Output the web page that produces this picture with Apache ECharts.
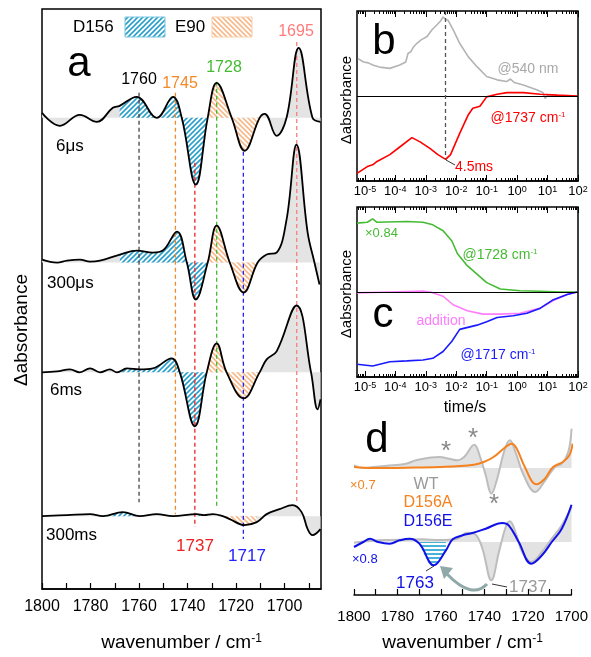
<!DOCTYPE html>
<html>
<head>
<meta charset="utf-8">
<script src="https://cdn.jsdelivr.net/npm/echarts@6/dist/echarts.min.js"></script>
<style>
html,body{margin:0;padding:0;background:#fff;}
#main{width:591px;height:657px;}
</style>
</head>
<body>
<div id="main"></div>
<script>
var FONT = 'Arial, "Liberation Sans", sans-serif';

// ---- panel a: spectra [wavenumber, delta abs] (arb. units) ----
var spec6us = [[1800,5],[1792.6,-8],[1784.4,3],[1777.4,-4],[1770.8,10],[1768,12],[1761,21],[1752.7,0],[1746,21],[1742.4,0],[1736.6,-67],[1731.7,0],[1728,35],[1721.8,0],[1716.5,-33],[1710.3,0],[1708.2,4],[1703.3,-18],[1699.2,0],[1694.2,70],[1688.5,0],[1685.2,-4]];
var spec300us = [[1800,3],[1793.8,0],[1789.7,2],[1784.4,3],[1780.2,1],[1776.1,2],[1767.9,8],[1760.9,12],[1754.3,10],[1750.2,12],[1744.4,31],[1740.3,0],[1736.6,-37],[1731.7,0],[1728,37],[1722.6,0],[1716.9,-30],[1711.1,0],[1707.4,8],[1703.3,10],[1699.2,43],[1695.1,118],[1690.5,30],[1687.7,0],[1685.6,-22]];
var spec6ms = [[1800,0],[1793.8,1],[1788.5,3],[1784.4,0],[1780.2,4],[1776.1,0],[1772,3],[1769.1,0],[1765,4],[1759.7,3],[1754.3,4],[1746.6,14],[1743.2,0],[1737,-54],[1732.1,0],[1728,29],[1723.9,0],[1716.9,-26],[1710.3,0],[1707.4,13],[1703.3,21],[1695.1,67],[1689.1,0],[1686.4,-37],[1685.2,-27]];
var spec300ms = [[1800,0],[1789.7,1],[1780.2,2],[1774.9,0],[1766.7,4],[1759.7,0],[1752.7,2],[1746.1,0],[1736.2,2],[1733.3,1],[1729.6,2],[1725.5,0],[1722.6,-3],[1716.5,-9],[1711.5,-6],[1707.4,2],[1702.1,7],[1696.7,11],[1693,4],[1690.5,-13],[1688.5,-19],[1685.2,-13]];
var traceOffsets = [0, -145, -255, -399];
var traceNames = ['6μs', '300μs', '6ms', '300ms'];
// hatched ranges [lo, hi] per trace
var blueRanges = [[[1731.7,1768]], [[1731.7,1767.9]], [[1732.1,1769.1]], [[1759.7,1774.9],[1733.3,1736.2]]];
var orangeRanges = [[[1710.3,1731.7]], [[1711.1,1731.7]], [[1710.3,1732.1]], [[1711.5,1725.5]]];
var markWn = [1760, 1745, 1737, 1728, 1717, 1695];
var markColors = ['#444444', '#f5892a', '#ee2222', '#44bb33', '#2222ff', '#ff7b7b'];
var markTop = [25, 25, -45, 36, -34, 76];
var markBottom = [-385, -397, -410, -390, -422, -385];

// ---- panel b/c: kinetics [time s, delta abs] ----
var k540 = [[5.9e-6,0.44],[9e-6,0.40],[1.3e-5,0.39],[1.8e-5,0.365],[3e-5,0.34],[6.6e-5,0.325],[1.4e-4,0.365],[2.2e-4,0.40],[2.6e-4,0.50],[3.2e-4,0.52],[4e-4,0.58],[5.1e-4,0.62],[7e-4,0.66],[1.1e-3,0.70],[1.6e-3,0.78],[2.3e-3,0.835],[3e-3,0.88],[3.7e-3,0.93],[4.5e-3,0.90],[5.4e-3,0.89],[7.9e-3,0.78],[1.3e-2,0.62],[2.5e-2,0.46],[4.8e-2,0.345],[0.1,0.23],[0.22,0.19],[0.45,0.17],[0.6,0.20],[0.8,0.16],[1.6,0.13],[4.6,0.07],[7,0.04],[8.3,-0.03],[10,0.01],[21,0.0],[93,0]];
var k1737 = [[5.5e-6,-0.91],[1.2e-5,-0.83],[1.8e-5,-0.81],[2.5e-5,-0.77],[6.6e-5,-0.69],[1.4e-4,-0.60],[3.5e-4,-0.49],[6.5e-4,-0.54],[1.4e-3,-0.62],[2.5e-3,-0.69],[4.5e-3,-0.745],[6.5e-3,-0.69],[1.3e-2,-0.44],[2.5e-2,-0.22],[3.5e-2,-0.145],[6e-2,-0.12],[0.1,-0.01],[0.22,0.02],[0.47,0.04],[1.6,0.04],[5.8,0.02],[21,0.01],[93,0]];
var k1728 = [[5.5e-6,0.81],[1.2e-5,0.82],[1.8e-5,0.86],[2.5e-5,0.82],[2.4e-4,0.83],[8.1e-4,0.82],[1.7e-3,0.79],[3.7e-3,0.72],[7.2e-3,0.60],[1.1e-2,0.45],[2.3e-2,0.31],[4.8e-2,0.21],[0.1,0.11],[0.28,0.035],[1.26,0.015],[5.8,0.008],[26,0],[93,0]];
var k1717 = [[5.5e-6,-0.85],[1.8e-5,-0.87],[6.6e-5,-0.82],[2.4e-4,-0.81],[8.1e-4,-0.80],[1.7e-3,-0.78],[3.7e-3,-0.70],[7.2e-3,-0.58],[1.3e-2,-0.44],[2.8e-2,-0.41],[4.8e-2,-0.39],[0.1,-0.35],[0.22,-0.30],[0.74,-0.28],[2.1,-0.25],[5.8,-0.19],[15.5,-0.09],[44,-0.03],[93,0]];
var kAdd = [[5.5e-6,-0.01],[6.6e-5,0],[8.1e-4,0.01],[1.4e-3,0],[3.7e-3,-0.05],[7.9e-3,-0.15],[2.3e-2,-0.22],[7.6e-2,-0.26],[0.28,-0.26],[1.26,-0.25],[5.8,-0.19],[15.5,-0.10],[44,-0.03],[93,0]];
var decades = [1e-5,1e-4,1e-3,1e-2,1e-1,1,10,100];

// ---- panel d: mutants ----
var wtUpper = [[1800,2.7],[1795.7,0],[1791.2,1],[1782.8,2.7],[1776,4.3],[1771.4,7.7],[1760.7,11],[1756.2,9.3],[1752.4,7.7],[1749.3,11],[1744.7,23.3],[1741.7,9.3],[1739.4,-7.3],[1736.8,-25.7],[1734.1,-10.7],[1731,16],[1728.3,27.7],[1725.7,16],[1721.9,-7.3],[1716.6,-24],[1712,-12.3],[1707.5,1],[1704.4,4.3],[1701.4,16],[1699.9,39.3]];
var d156a = [[1800,1],[1791.2,0],[1776,0.3],[1760.7,1],[1744.8,3.3],[1740.3,6],[1735.8,11],[1731.2,19.3],[1727.4,24.3],[1725.1,19.3],[1721.4,1],[1716.1,-16.3],[1712.2,-10.7],[1708.4,1],[1703.9,6],[1700.9,12.7],[1699.4,24.3]];
var wtLower = [[1800,-0.7],[1791.2,1.3],[1783.6,2],[1776,2.3],[1768.4,2.7],[1760.7,2],[1753.1,2.7],[1747.8,9.3],[1744,7.3],[1740.9,-6.7],[1736.8,-38.3],[1733.3,-10],[1730.2,15],[1728.3,20.7],[1725.7,10],[1722.6,-10],[1718.4,-20],[1713.5,-10],[1709,3.3],[1704.4,16.7],[1699.9,35]];
var d156e = [[1800,-5],[1795.7,0],[1792.7,3.3],[1788.9,0],[1783.6,-1.7],[1779,1.7],[1774.4,3.3],[1769.9,-1.7],[1763.3,-23.3],[1757.7,-8.3],[1754.6,2.7],[1750,6.7],[1745.5,9],[1739.4,13.3],[1731.8,19],[1728.8,16.7],[1724.2,0],[1718.4,-21.7],[1713.5,-13.3],[1709,0],[1704.4,13.3],[1699.9,37.3]];
var dOffsets = [0, -74];
var d156eHatch = [1756.2, 1769.9];

function hatch(color, dir, size) {
    var c = document.createElement('canvas');
    c.width = size; c.height = size;
    var g = c.getContext('2d');
    g.fillStyle = '#ffffff';
    g.fillRect(0, 0, size, size);
    g.strokeStyle = color;
    g.lineWidth = 1.6;
    g.beginPath();
    if (dir === '/') {
        g.moveTo(-size, size); g.lineTo(size, -size);
        g.moveTo(0, size); g.lineTo(size, 0);
        g.moveTo(0, 2 * size); g.lineTo(2 * size, 0);
    } else if (dir === '\\') {
        g.moveTo(0, 0); g.lineTo(size, size);
        g.moveTo(-size, 0); g.lineTo(size, 2 * size);
        g.moveTo(0, -size); g.lineTo(2 * size, size);
    } else {
        g.moveTo(0, size / 2); g.lineTo(size, size / 2);
    }
    g.stroke();
    return {image: c, repeat: 'repeat'};
}
var blueHatch = hatch('#2a9fca', '/', 5);
var orangeHatch = hatch('#f7b98a', '\\', 5);
var cyanLines = hatch('#1aa0d0', '-', 4);

function shift(arr, off) {
    return arr.map(function (p) { return [p[0], p[1] + off]; });
}
function inRange(arr, r) {
    return arr.filter(function (p) { return p[0] >= r[0] - 0.01 && p[0] <= r[1] + 0.01; });
}

var series = [];
var specs = [spec6us, spec300us, spec6ms, spec300ms];
specs.forEach(function (s, i) {
    var off = traceOffsets[i];
    series.push({type: 'line', xAxisIndex: 0, yAxisIndex: 0, smooth: 0.4, symbol: 'none', z: 1,
        data: shift(s, off), lineStyle: {width: 0}, areaStyle: {color: '#e4e4e4', opacity: 1, origin: off}});
    blueRanges[i].forEach(function (r) {
        series.push({type: 'line', xAxisIndex: 0, yAxisIndex: 0, smooth: 0.4, symbol: 'none', z: 2,
            data: shift(inRange(s, r), off), lineStyle: {width: 0}, areaStyle: {color: blueHatch, opacity: 1, origin: off}});
    });
    orangeRanges[i].forEach(function (r) {
        series.push({type: 'line', xAxisIndex: 0, yAxisIndex: 0, smooth: 0.4, symbol: 'none', z: 2,
            data: shift(inRange(s, r), off), lineStyle: {width: 0}, areaStyle: {color: orangeHatch, opacity: 1, origin: off}});
    });
});
markWn.forEach(function (w, i) {
    series.push({type: 'line', xAxisIndex: 0, yAxisIndex: 0, symbol: 'none', z: 3,
        data: [[w, markTop[i]], [w, markBottom[i]]],
        lineStyle: {color: markColors[i], width: 1.3, type: [4, 3]}});
});
specs.forEach(function (s, i) {
    series.push({type: 'line', xAxisIndex: 0, yAxisIndex: 0, smooth: 0.4, symbol: 'none', z: 4,
        data: shift(s, traceOffsets[i]), lineStyle: {color: '#000', width: 1.8}});
});

// panel b
series.push({type: 'line', xAxisIndex: 1, yAxisIndex: 1, symbol: 'none', data: k540,
    lineStyle: {color: '#b4b4b4', width: 1.6},
    markLine: {silent: true, symbol: 'none', label: {show: false}, lineStyle: {color: '#000', width: 1.2, type: 'solid'}, data: [{yAxis: 0}]}});
series.push({type: 'line', xAxisIndex: 1, yAxisIndex: 1, symbol: 'none', data: k1737, lineStyle: {color: '#ff0000', width: 1.6},
    markLine: {silent: true, symbol: 'none', label: {show: false}, lineStyle: {color: '#555', width: 1.3, type: [4, 3]},
        data: [[{coord: [4.5e-3, 1]}, {coord: [4.5e-3, -0.745]}]]}});
// panel c
series.push({type: 'line', xAxisIndex: 5, yAxisIndex: 2, symbol: 'none', data: k1728, lineStyle: {color: '#44bb33', width: 1.6},
    markLine: {silent: true, symbol: 'none', label: {show: false}, lineStyle: {color: '#000', width: 1.2, type: 'solid'}, data: [{yAxis: 0}]}});
series.push({type: 'line', xAxisIndex: 5, yAxisIndex: 2, symbol: 'none', data: kAdd, lineStyle: {color: '#ff7cff', width: 1.6}});
series.push({type: 'line', xAxisIndex: 5, yAxisIndex: 2, symbol: 'none', data: k1717, lineStyle: {color: '#1a1aff', width: 1.6}});

// panel d
[wtUpper, wtLower].forEach(function (s, i) {
    series.push({type: 'line', xAxisIndex: 9, yAxisIndex: 3, smooth: 0.4, symbol: 'none', z: 1,
        data: shift(s, dOffsets[i]), lineStyle: {color: '#bdbdbd', width: 2},
        areaStyle: {color: '#e2e2e2', opacity: 1, origin: dOffsets[i]}});
});
series.push({type: 'line', xAxisIndex: 9, yAxisIndex: 3, smooth: 0.4, symbol: 'none', z: 2,
    data: shift(inRange(d156e, d156eHatch), dOffsets[1]), lineStyle: {width: 0},
    areaStyle: {color: cyanLines, opacity: 1, origin: dOffsets[1]}});
series.push({type: 'line', xAxisIndex: 9, yAxisIndex: 3, smooth: 0.4, symbol: 'none', z: 3,
    data: shift(d156a, dOffsets[0]), lineStyle: {color: '#f5821f', width: 2}});
series.push({type: 'line', xAxisIndex: 9, yAxisIndex: 3, smooth: 0.4, symbol: 'none', z: 3,
    data: shift(d156e, dOffsets[1]), lineStyle: {color: '#1010e8', width: 2}});

function range(a, b, step) {
    var out = [];
    for (var v = a; v <= b + 1e-9; v += step) out.push(v);
    return out;
}
var minorLog = [];
decades.forEach(function (d) {
    for (var k = 2; k <= 9; k++) { if (d * k <= 100 && d * k >= 5.5e-6) minorLog.push(d * k); }
});
[6, 7, 8, 9].forEach(function (k) { minorLog.push(k * 1e-6); });

function logAxis(grid, pos, labels, len, ticks) {
    return {type: 'log', gridIndex: grid, position: pos, min: 5.5e-6, max: 100, logBase: 10,
        axisLine: {show: pos === 'bottom' && labels, onZero: false, lineStyle: {color: '#000', width: 1.5}},
        axisTick: {show: true, inside: true, length: len, customValues: ticks, lineStyle: {color: '#000', width: 1}},
        splitLine: {show: false},
        axisLabel: {show: labels, customValues: decades, margin: 4, color: '#000', fontFamily: FONT, fontSize: 13,
            formatter: function (v) {
                var e = Math.round(Math.log(v) / Math.LN10);
                return '10{s|' + e + '}';
            },
            rich: {s: {fontSize: 9, verticalAlign: 'top', fontFamily: FONT, color: '#000'}}}};
}
function plain(v) { return String(v); }

var option = {
    animation: false,
    textStyle: {fontFamily: FONT},
    grid: [
        {left: 42, top: 9, width: 279, height: 581, show: true, borderColor: '#000', borderWidth: 1.5},
        {left: 357, top: 11, width: 221, height: 170, show: true, borderColor: '#000', borderWidth: 1.5},
        {left: 357, top: 207, width: 221, height: 170, show: true, borderColor: '#000', borderWidth: 1.5},
        {left: 354, top: 420, width: 219, height: 175}
    ],
    xAxis: [
        {type: 'value', gridIndex: 0, min: 1685, max: 1800, inverse: true,
            axisLine: {onZero: false, lineStyle: {color: '#000', width: 1.5}},
            axisTick: {inside: true, length: 6, customValues: range(1690, 1800, 10), lineStyle: {color: '#000', width: 1.2}},
            axisLabel: {customValues: range(1700, 1800, 20), formatter: plain, color: '#000', fontSize: 16, margin: 10, fontFamily: FONT},
            splitLine: {show: false},
            name: 'wavenumber / cm{s|-1}', nameLocation: 'middle', nameGap: 44,
            nameTextStyle: {color: '#000', fontSize: 19, fontFamily: FONT, rich: {s: {fontSize: 12, verticalAlign: 'top', color: '#000'}}}},
        logAxis(1, 'bottom', true, 6, decades),
        logAxis(1, 'bottom', false, 3, minorLog),
        logAxis(1, 'top', false, 6, decades),
        logAxis(1, 'top', false, 3, minorLog),
        logAxis(2, 'bottom', true, 6, decades),
        logAxis(2, 'bottom', false, 3, minorLog),
        logAxis(2, 'top', false, 6, decades),
        logAxis(2, 'top', false, 3, minorLog),
        {type: 'value', gridIndex: 3, min: 1700, max: 1800, interval: 20, inverse: true,
            axisLine: {onZero: false, lineStyle: {color: '#000', width: 1.5}},
            axisTick: {inside: true, length: 6, lineStyle: {color: '#000', width: 1.2}},
            minorTick: {show: true, splitNumber: 2, length: 6, lineStyle: {color: '#000', width: 1.2}},
            axisLabel: {formatter: plain, color: '#000', fontSize: 15, margin: 14, fontFamily: FONT},
            splitLine: {show: false},
            name: 'wavenumber / cm{s|-1}', nameLocation: 'middle', nameGap: 38,
            nameTextStyle: {color: '#000', fontSize: 19, fontFamily: FONT, rich: {s: {fontSize: 12, verticalAlign: 'top', color: '#000'}}}}
    ],
    yAxis: [
        {type: 'value', gridIndex: 0, min: -472, max: 109, show: false},
        {type: 'value', gridIndex: 1, min: -1, max: 1, show: false},
        {type: 'value', gridIndex: 2, min: -1, max: 1, show: false},
        {type: 'value', gridIndex: 3, min: -127, max: 48, show: false}
    ],
    series: series
};

function txt(x, y, s, size, color, align, rot) {
    return {type: 'text', x: x, y: y, rotation: rot || 0, z: 100,
        style: {text: s, fontSize: size, fontFamily: FONT, fill: color, align: align || 'center', verticalAlign: 'middle',
            rich: {s: {fontSize: Math.round(size * 0.6), verticalAlign: 'top', fill: color, fontFamily: FONT}}}};
}
var graphics = [
    // panel a
    txt(79, 64, 'a', 42, '#000'),
    txt(73, 27, 'D156', 17, '#000', 'left'),
    {type: 'rect', shape: {x: 125, y: 17, width: 40, height: 20}, style: {fill: blueHatch, stroke: '#7cc7e0', lineWidth: 1}, z: 100},
    txt(175, 27, 'E90', 17, '#000', 'left'),
    {type: 'rect', shape: {x: 212, y: 17, width: 40, height: 20}, style: {fill: orangeHatch, stroke: '#f8cfae', lineWidth: 1}, z: 100},
    txt(139, 80, '1760', 16, '#000'),
    txt(180, 84, '1745', 16, markColors[1]),
    txt(224, 68, '1728', 16, markColors[3]),
    txt(296, 32, '1695', 16, markColors[5]),
    txt(195, 546, '1737', 17, markColors[2]),
    txt(247, 556, '1717', 17, markColors[4]),
    txt(56, 146, traceNames[0], 17, '#000', 'left'),
    txt(47, 283, traceNames[1], 17, '#000', 'left'),
    txt(50, 390, traceNames[2], 17, '#000', 'left'),
    txt(46, 535, traceNames[3], 17, '#000', 'left'),
    txt(22, 330, 'Δabsorbance', 19, '#000', 'center', Math.PI / 2),
    // panel b
    txt(384, 42, 'b', 42, '#000'),
    txt(347, 100, 'Δabsorbance', 15, '#000', 'center', Math.PI / 2),
    txt(528, 69, '@540 nm', 14, '#a8a8a8'),
    txt(528, 118, '@1737 cm{s|-1}', 14, '#ff0000'),
    txt(455, 167, '4.5ms', 14, '#ff0000', 'left'),
    {type: 'line', shape: {x1: 446, y1: 160, x2: 455, y2: 165}, style: {stroke: '#000', lineWidth: 0.8}, z: 100},
    // panel c
    txt(383, 315, 'c', 42, '#000'),
    txt(347, 294, 'Δabsorbance', 15, '#000', 'center', Math.PI / 2),
    txt(365, 233, '×0.84', 13, '#44bb33', 'left'),
    txt(500, 255, '@1728 cm{s|-1}', 14, '#44bb33'),
    txt(441, 321, 'addition', 14, '#ff7cff'),
    txt(498, 355, '@1717 cm{s|-1}', 14, '#1a1aff'),
    txt(465, 408, 'time/s', 16, '#000'),
    // panel d
    txt(377, 440, 'd', 42, '#000'),
    txt(446, 452, '*', 26, '#888'),
    txt(473, 439, '*', 26, '#888'),
    txt(494, 505, '*', 26, '#888'),
    txt(350, 485, '×0.7', 13, '#f5821f', 'left'),
    txt(426, 485, 'WT', 16, '#999'),
    txt(428, 503, 'D156A', 16, '#f5821f'),
    txt(428, 522, 'D156E', 16, '#1010e8'),
    txt(352, 559, '×0.8', 13, '#1010e8', 'left'),
    txt(415, 583, '1763', 17, '#1010e8'),
    txt(528, 587, '1737', 17, '#999'),
    {type: 'line', shape: {x1: 434, y1: 566, x2: 426, y2: 571}, style: {stroke: '#000', lineWidth: 0.8}, z: 100},
    {type: 'line', shape: {x1: 492, y1: 584, x2: 507, y2: 587}, style: {stroke: '#000', lineWidth: 0.8}, z: 100},
    {type: 'bezierCurve', shape: {x1: 487, y1: 584, x2: 447, y2: 574, cpx1: 472, cpy1: 600}, style: {stroke: '#8fa8a8', lineWidth: 3, fill: null}, z: 100},
    {type: 'polygon', shape: {points: [[440, 566], [453, 568], [444, 579]]}, style: {fill: '#8fa8a8'}, z: 100}
];
option.graphic = graphics;

var myChart = echarts.init(document.getElementById('main'));
myChart.setOption(option);
</script>
</body>
</html>
